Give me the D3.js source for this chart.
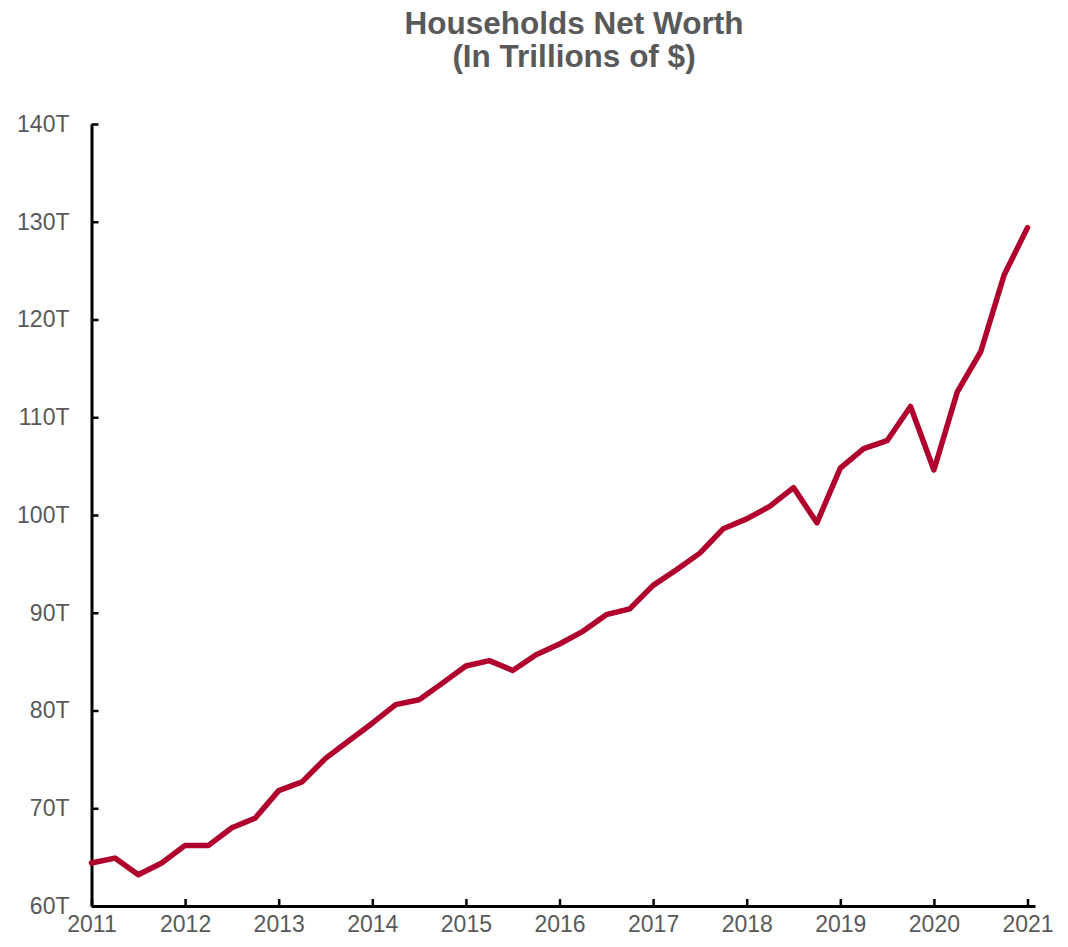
<!DOCTYPE html>
<html>
<head>
<meta charset="utf-8">
<script src="https://cdn.jsdelivr.net/npm/d3@7/dist/d3.min.js"></script>
<style>
  html, body { margin: 0; padding: 0; background: #fff; }
  svg { display: block; }
  text { font-family: "Liberation Sans", Arial, Helvetica, sans-serif; }
</style>
</head>
<body>
<svg id="chart" width="1068" height="947"></svg>
<script>
// Quarterly household net worth, trillions of dollars (2011 Q1 .. 2021 Q1)
const quarters = d3.range(41).map(i => 2011 + i / 4);
const netWorth = [
  64.4, 64.9, 63.2, 64.4,
  66.2, 66.2, 68.0, 69.0,
  71.8, 72.7, 75.1, 76.9,
  78.7, 80.6, 81.1, 82.8,
  84.55, 85.1, 84.1, 85.7,
  86.8, 88.1, 89.8, 90.4,
  92.8, 94.4, 96.1, 98.6,
  99.6, 100.9, 102.8, 99.2,
  104.8, 106.8, 107.6, 111.1,
  104.6, 112.6, 116.7, 124.55,
  129.4
];
const yearTicks = d3.range(2011, 2022);
const valueTicks = d3.range(60, 141, 10);
const titleLines = ["Households Net Worth", "(In Trillions of $)"];

const svg = d3.select("#chart");
const textColor = "#595959";
const lineColor = "#b0002c";

const x = d3.scaleLinear().domain([2011, 2021.08]).range([91.5, 1035]);
const y = d3.scaleLinear().domain([60, 140]).range([906, 124]);

// Title
svg.append("g")
  .selectAll("text")
  .data(titleLines)
  .join("text")
  .attr("x", 574)
  .attr("y", (d, i) => 33.5 + i * 33)
  .attr("text-anchor", "middle")
  .attr("font-size", 31.5)
  .attr("font-weight", "bold")
  .attr("fill", textColor)
  .text(d => d);

// Y axis
const yAxis = svg.append("g")
  .attr("transform", `translate(${x(2011)},0)`)
  .call(d3.axisLeft(y)
    .tickValues(valueTicks)
    .tickFormat(d => d + "T")
    .tickSizeInner(-7)
    .tickSizeOuter(0)
    .tickPadding(22));
yAxis.select(".domain").attr("stroke", "#000").attr("stroke-width", 3);
yAxis.selectAll(".tick line").attr("stroke", "#000").attr("stroke-width", 2.5);
yAxis.selectAll(".tick text")
  .attr("font-size", 23)
  .attr("font-family", "Liberation Sans, Arial, sans-serif")
  .attr("fill", textColor);

// X axis
const xAxis = svg.append("g")
  .attr("transform", `translate(0,${y(60)})`)
  .call(d3.axisBottom(x)
    .tickValues(yearTicks)
    .tickFormat(d3.format("d"))
    .tickSizeInner(-7)
    .tickSizeOuter(0)
    .tickPadding(10));
xAxis.select(".domain").attr("stroke", "#000").attr("stroke-width", 3);
xAxis.selectAll(".tick line").attr("stroke", "#000").attr("stroke-width", 2.5);
xAxis.selectAll(".tick text")
  .attr("font-size", 23)
  .attr("font-family", "Liberation Sans, Arial, sans-serif")
  .attr("fill", textColor);

// Net worth line
const line = d3.line()
  .x((d, i) => x(quarters[i]))
  .y(d => y(d));

svg.append("path")
  .datum(netWorth)
  .attr("fill", "none")
  .attr("stroke", lineColor)
  .attr("stroke-width", 5.5)
  .attr("stroke-linejoin", "round")
  .attr("stroke-linecap", "round")
  .attr("d", line);
</script>
</body>
</html>
